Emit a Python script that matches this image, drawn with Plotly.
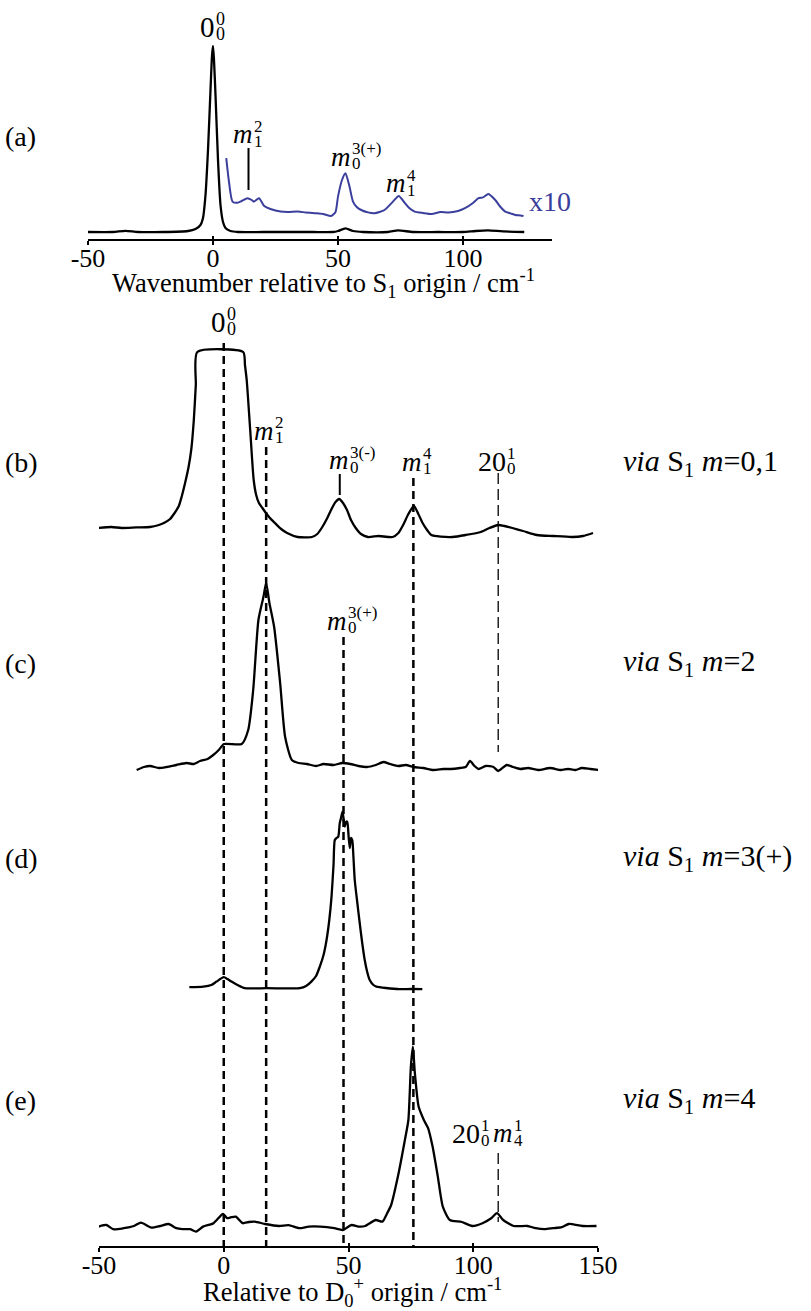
import plotly.graph_objects as go

W, H = 811, 1311
FONT = "Liberation Serif"
BLUE = "#3b3f9c"

# ---------------- data ----------------
# (a) REMPI spectrum (black) and x10 trace (blue)
a_x = [-50, -40, -35, -30, -20, -10, -7, -5, -4, -3, -2, -1, -0.4, 0, 0.4, 1, 2, 3, 4, 5, 7, 10,
       20, 30, 40, 48, 50, 53, 56, 60, 70, 74, 80, 90, 100, 105, 110, 116, 124.5]
a_y = [4, 4, 4.6, 4, 4, 4.5, 5.5, 7.5, 11, 22.5, 45, 75, 92, 97, 90, 72.5, 40, 17.5, 9, 6, 4.5, 4,
       4, 4, 4, 4, 4.5, 5.8, 4.5, 4, 4, 4.8, 4, 4, 4, 4.5, 4.8, 4.3, 4]
a10_x = [5.3, 6.3, 7.8, 9.8, 11.5, 13.8, 15.5, 16.4, 18.4, 20.5, 23, 27, 30, 33.9, 37, 40.6, 44,
         47.3, 49, 50, 51.6, 53, 54.6, 56, 57.5, 59.3, 62, 64.6, 68.6, 72, 74.3, 76.7, 78.5,
         80.7, 84, 87.5, 91, 94.2, 98, 100.8, 104, 106.2, 108, 110.2, 112.9, 115, 116.9, 119,
         120.9, 123, 124.2]
a10_y = [40.9, 30, 19.2, 18.6, 19.5, 20.9, 20, 19.2, 20.9, 17, 15.5, 14.2, 14, 14.2, 13.8, 13.4,
         13, 12, 14, 21.7, 30, 33.4, 26.7, 19.2, 16.5, 15, 13.8, 13.4, 15, 19.2, 22, 18.6, 16,
         14.2, 13.5, 13, 14, 13.7, 14.5, 15.9, 18.5, 20.9, 21.3, 23, 20, 16.5, 14.2, 13.3,
         12.5, 12.3, 12]

# (b) via S1 m=0,1
b_x = [-50.8, -45, -40.9, -35, -29.6, -26, -24, -21.5, -19.7, -18, -16.9, -15.5, -14.1, -13,
       -12, -11.2, -10.6, 7.8, 8.5, 9.2, 10.6, 12, 13, 14.1, 15.5, 16.9, 18.5, 20.5, 23, 25.4,
       29.6, 35.3, 37.5, 39.5, 41.5, 43, 44.8, 46.3, 47.8, 49.4, 51, 52.9, 55, 57.8, 62, 67.7,
       70, 71.9, 74, 76.2, 78, 79.7, 81.5, 83.2, 87, 91.7, 97, 103, 106.5, 110, 112.5, 115.7,
       120, 125.5, 132, 139.6, 144, 148]
b_y = [8.5, 9, 8.5, 8.8, 9, 10, 11, 13, 16, 19.5, 24, 31, 39, 48, 62.5, 80, 96.5, 96.5, 90, 82.5,
       57.5, 32.5, 25, 21, 18.5, 16, 13.5, 11, 8, 6, 4, 4, 5.5, 9, 13.5, 17.5, 21.5, 23, 21,
       17.5, 12.5, 8.5, 5.5, 4, 4.5, 4, 6, 10, 15.5, 19.5, 15.5, 11, 7.5, 5, 4.2, 4, 5, 6.5, 8.5,
       10, 9.5, 8.5, 7, 5, 4.5, 4, 4.5, 6]

# (c) via S1 m=2
c_x = [-34.9, -32, -29.5, -26, -22.9, -19, -14.9, -12, -9.5, -6.5, -4.2, -2, 0.1, 7.2, 9.8, 11.8,
       13.9, 15.9, 17, 18.3, 20.2, 22.6, 24.6, 27.3, 30, 33.3, 37, 40, 44, 47.5, 50.7, 54, 57.4,
       61, 64, 66.7, 70, 73, 76, 80, 84, 88, 91, 94.7, 97, 98.7, 100.5, 102.1, 105, 108.1, 110,
       113.4, 116, 118.8, 122, 126, 130.8, 135, 138, 141, 143.5, 147, 150.8]
c_y = [2.5, 4, 4.5, 3.5, 4, 5, 6, 5.5, 7, 8, 10, 12.5, 15.5, 15.5, 22.5, 42.5, 77.5, 89, 96, 86,
       74, 46, 19, 7.5, 6, 5.5, 4.5, 5.5, 5, 6, 5.5, 4.5, 4, 5, 6.5, 5.5, 4.5, 5, 4, 3.5, 2.5,
       3, 3, 3.5, 4, 7, 4.5, 3, 4.5, 4, 2, 5, 4, 3, 3.5, 2.5, 3.5, 2.5, 3, 2.5, 3.5, 3, 2.5]

# (d) via S1 m=3(+)
d_x = [-13.8, -8.2, -5, -2.9, 0, 1.5, 3.1, 5.5, 8.4, 17.1, 25, 30.5, 33, 35.1, 37, 38.5, 40, 41.2,
       42.3, 43.2, 44, 44.5, 45.2, 45.9, 46.5, 47, 47.6, 48.1, 48.5, 49, 49.5, 50, 50.5, 51, 51.5,
       52, 52.5, 53.5, 54.5, 55.5, 56.5, 57.5, 58.5, 60, 61.2, 65, 70.5, 75, 79.6]
d_y = [3.9, 4.2, 5, 6.7, 8.9, 8, 6.7, 5, 3.4, 3.4, 3.3, 3.4, 4.5, 6.7, 9.5, 14.2, 20, 27.5, 37.5,
       49.2, 65, 77.5, 78.5, 79.2, 86, 88.5, 91.7, 87.5, 84.2, 86.5, 86.7, 80, 73.5, 78.5, 77.5,
       68.5, 57.5, 46.5, 35.9, 26, 17.5, 11.5, 7.5, 5, 4.2, 3.5, 2.9, 3, 2.9]

# (e) via S1 m=4
e_x = [-50.2, -47, -44.3, -40.1, -36, -33.2, -29, -25.5, -22.1, -19, -16.6, -13.5, -11.1, -8.3,
       -4.1, -0.3, 1.4, 3, 4.8, 7.6, 10, 12.4, 16.6, 22.1, 26, 30.4, 34, 38.7, 44.3, 47.7, 51.2,
       54, 56.7, 60.9, 63.6, 65.5, 67.1, 69.8, 72.6, 74, 75, 75.8, 76.6, 78.1, 80.2, 81.9, 83.7,
       85.8, 87.8, 90.6, 95.4, 99.6, 103.7, 107.2, 109.5, 112, 116.2, 121.7, 125, 128.6, 132,
       135.5, 138.3, 143.8, 149.4]
e_y = [6.7, 7.5, 5.4, 5.9, 7, 8.7, 6.2, 7, 8, 5.9, 5.4, 5.4, 4.2, 6.7, 8.4, 13, 10.9, 11.4, 11.7,
       8.4, 9, 9.2, 8, 7, 7.4, 5.9, 6.7, 6.7, 5.9, 5, 7.5, 6.7, 7, 10, 9.2, 13.4, 17.5, 31.7, 50,
       60, 86.7, 96.7, 83.4, 66.7, 60, 55.9, 46.7, 31.7, 16.7, 10, 9, 7, 8.4, 10.9, 13.4, 10, 7,
       7, 5.9, 5.4, 5.9, 6.4, 8, 7, 7]

# band assignment positions (cm-1)
a_ticks = [-50, 0, 50, 100]
a_ticktext = ["-50", "0", "50", "100"]
b_ticks = [-50, 0, 50, 100, 150]
b_ticktext = ["-50", "0", "50", "100", "150"]
band_pos = [0, 17, 48, 76]      # thick dashed guide lines
pos_20 = 110                    # thin dashed guide (20^1_0)
pos_m3minus = 46.5
pos_a_m2 = 14.2
pos_a_m3 = 53
pos_a_m4 = 74.3

# ---------------- helpers ----------------
def py2p(py):
    return 1 - py / H


fig = go.Figure()

line_k = dict(color="black", width=2.3, shape="spline", smoothing=0.6)
fig.add_trace(go.Scatter(x=a_x, y=a_y, mode="lines", line=line_k, xaxis="x", yaxis="y"))
fig.add_trace(go.Scatter(x=a10_x, y=a10_y, mode="lines",
                         line=dict(color=BLUE, width=2, shape="spline", smoothing=0.6),
                         xaxis="x", yaxis="y"))
for xs, ys, ya in [(b_x, b_y, "y2"), (c_x, c_y, "y3"), (d_x, d_y, "y4"), (e_x, e_y, "y5")]:
    fig.add_trace(go.Scatter(x=xs, y=ys, mode="lines", line=line_k, xaxis="x2", yaxis=ya))
# dummy traces for the inward tick overlays
fig.add_trace(go.Scatter(x=[None], y=[None], xaxis="x3", yaxis="y"))
fig.add_trace(go.Scatter(x=[None], y=[None], xaxis="x4", yaxis="y5"))

tickfont = dict(family=FONT, size=26, color="black")


def xax(domain, rng, pos, vals, texts):
    return dict(domain=domain, range=rng, anchor="free", position=pos, showline=True,
                linecolor="black", linewidth=2, ticks="outside", ticklen=4, tickwidth=2,
                tickcolor="black", tickvals=vals, ticktext=texts, tickfont=tickfont,
                showgrid=False, zeroline=False, fixedrange=True, automargin=False,
                ticklabelstandoff=-9)


def xov(base, rng, pos, vals):
    return dict(overlaying=base, range=rng, anchor="free", position=pos, showline=False,
                ticks="inside", ticklen=4, tickwidth=2, tickcolor="black", tickvals=vals,
                showticklabels=False, showgrid=False, zeroline=False, fixedrange=True,
                automargin=False)


a_rng = [-50, 135.6]
b_rng = [-50, 150]
posA = py2p(240)
posB = py2p(1247)


def yax(bottom, top, anchor):
    return dict(domain=[py2p(bottom), py2p(top)], range=[0, 100], visible=False,
                anchor=anchor, fixedrange=True, automargin=False)


fig.update_layout(
    width=W, height=H, margin=dict(l=0, r=0, t=0, b=0, autoexpand=False),
    paper_bgcolor="white", plot_bgcolor="rgba(0,0,0,0)", showlegend=False,
    xaxis=xax([88 / W, 552 / W], a_rng, posA, a_ticks, a_ticktext),
    xaxis2=xax([99 / W, 598 / W], b_rng, posB, b_ticks, b_ticktext),
    xaxis3=xov("x", a_rng, posA, a_ticks),
    xaxis4=xov("x2", b_rng, posB, b_ticks),
    yaxis=yax(240, 40, "x"),
    yaxis2=yax(545, 345, "x2"),
    yaxis3=yax(775, 575, "x2"),
    yaxis4=yax(995, 795, "x2"),
    yaxis5=yax(1240, 1040, "x2"),
)

# guide lines
shapes = []
tops = [343, 447, 637, 478]
for xv, top in zip(band_pos, tops):
    shapes.append(dict(type="line", xref="x2", yref="paper", x0=xv, x1=xv,
                       y0=py2p(top), y1=py2p(1247),
                       line=dict(color="black", width=2.5, dash="8px,5px")))
for top, bot in [(473, 752), (1153, 1222)]:
    shapes.append(dict(type="line", xref="x2", yref="paper", x0=pos_20, x1=pos_20,
                       y0=py2p(top), y1=py2p(bot),
                       line=dict(color="black", width=1.3, dash="11px,5px")))
shapes.append(dict(type="line", xref="x2", yref="paper", x0=pos_m3minus, x1=pos_m3minus,
                   y0=py2p(474), y1=py2p(495), line=dict(color="black", width=2)))
shapes.append(dict(type="line", xref="x", yref="paper", x0=pos_a_m2, x1=pos_a_m2,
                   y0=py2p(148), y1=py2p(190), line=dict(color="black", width=2)))
fig.update_layout(shapes=shapes)


def ann(x, y, text, xref="paper", size=25, color="black", xanchor="center", **kw):
    fig.add_annotation(x=x, y=y, xref=xref, yref="paper", text=text, showarrow=False,
                       font=dict(family=FONT, size=size, color=color), xanchor=xanchor,
                       yanchor="middle", borderpad=0, **kw)


def sl(x, xref, py, base, sup, sub, dx=0, italic=False, size=27, ssize=17):
    bt = f"<i>{base}</i>" if italic else base
    ann(x, py2p(py), bt, xref=xref, size=size, xanchor="right", xshift=dx)
    ann(x, py2p(py), sup, xref=xref, size=ssize, xanchor="left", xshift=dx - 1, yshift=8)
    ann(x, py2p(py), sub, xref=xref, size=ssize, xanchor="left", xshift=dx - 1, yshift=-7)


# panel (a) labels
sl(0, "x", 27, "0", "0", "0", dx=3, size=29, ssize=18)
sl(pos_a_m2, "x", 134, "m", "2", "1", dx=5, italic=True)
sl(pos_a_m3, "x", 157, "m", "3(+)", "0", dx=6, italic=True)
sl(pos_a_m4, "x", 183, "m", "4", "1", dx=8, italic=True)
ann(528 / W, py2p(201), "x10", size=28, color=BLUE, xanchor="left")
ann(323 / W, py2p(283), "Wavenumber relative to S<sub>1</sub> origin / cm<sup>-1</sup>", size=26.5)

# panel (b)-(e) labels
sl(0, "x2", 322, "0", "0", "0", dx=3, size=29, ssize=18)
sl(band_pos[1], "x2", 431, "m", "2", "1", dx=9, italic=True)
sl(pos_m3minus, "x2", 460, "m", "3(-)", "0", dx=10, italic=True)
sl(band_pos[3], "x2", 462, "m", "4", "1", dx=10, italic=True)
sl(pos_20, "x2", 462, "20", "1", "0", dx=9, size=28)
sl(band_pos[2], "x2", 621, "m", "3(+)", "0", dx=4, italic=True)
sl(pos_20, "x2", 1133, "20", "1", "0", dx=-17, size=28)
sl(pos_20, "x2", 1133, "m", "1", "4", dx=16, italic=True)
ann(352 / W, py2p(1292), "Relative to D<sub>0</sub><sup>+</sup> origin / cm<sup>-1</sup>", size=26.5)

# panel letters and 'via' labels
for lab, py in [("(a)", 136), ("(b)", 463), ("(c)", 663), ("(d)", 858), ("(e)", 1100)]:
    ann(4 / W, py2p(py), lab, size=28, xanchor="left")
for lab, py in [("0,1", 463), ("2", 663), ("3(+)", 858), ("4", 1100)]:
    ann(622 / W, py2p(py), f"<i>via</i> S<sub>1</sub> <i>m</i>={lab}", size=30, xanchor="left")

fig.write_html("out.html")
